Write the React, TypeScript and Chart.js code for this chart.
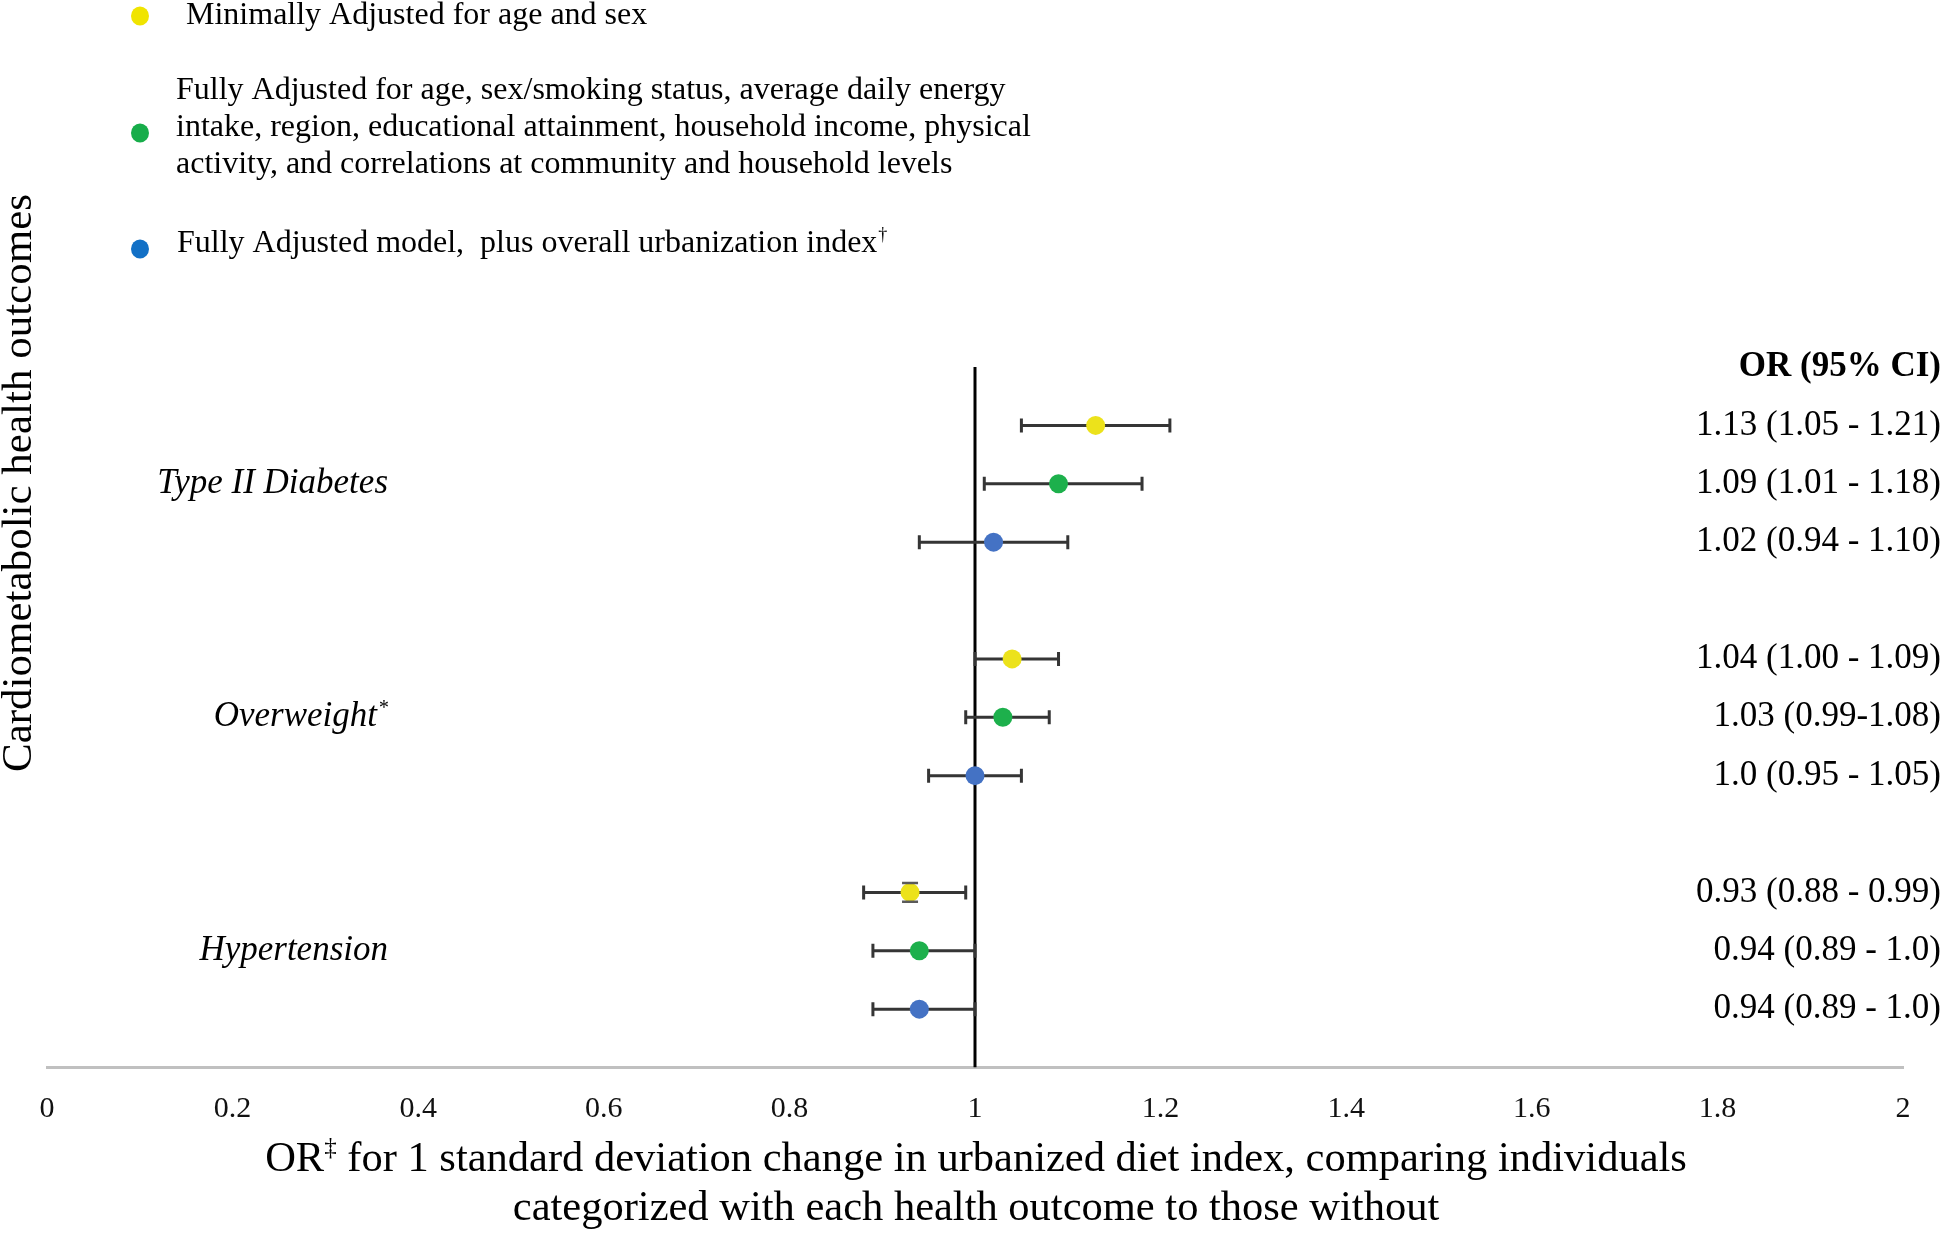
import React, { useEffect, useRef } from "react";
import { Chart, registerables } from "chart.js";

Chart.register(...registerables);

const FONT = "'Liberation Serif', 'Times New Roman', serif";

// ---- data ----
const outcomes = ["Type II Diabetes", "Overweight", "Hypertension"];
const outcomeMarks = ["", "*", ""];
const outcomeSlots = [1, 5, 9];

const modelColors = ["#ece21b", "#1db04c", "#4472c4"];
const legendColors = ["#f0e400", "#17ad4a", "#1270c6"];

const rowSlots = [0, 1, 2, 4, 5, 6, 8, 9, 10];
const rowModel = [0, 1, 2, 0, 1, 2, 0, 1, 2];
const orValues = [1.13, 1.09, 1.02, 1.04, 1.03, 1.0, 0.93, 0.94, 0.94];
const ciLower = [1.05, 1.01, 0.94, 1.0, 0.99, 0.95, 0.88, 0.89, 0.89];
const ciUpper = [1.21, 1.18, 1.1, 1.09, 1.08, 1.05, 0.99, 1.0, 1.0];
const tinyYErr = [0, 0, 0, 0, 0, 0, 0.16, 0, 0];
const orLabels = [
  "1.13 (1.05 - 1.21)",
  "1.09 (1.01 - 1.18)",
  "1.02 (0.94 - 1.10)",
  "1.04 (1.00 - 1.09)",
  "1.03 (0.99-1.08)",
  "1.0 (0.95 - 1.05)",
  "0.93 (0.88 - 0.99)",
  "0.94 (0.89 - 1.0)",
  "0.94 (0.89 - 1.0)",
];
const orHeader = "OR (95% CI)";
const headerSlot = -1;

const referenceX = 1;
const referenceYRange = [-1, 11];

const xMin = 0;
const xMax = 2;
const xStep = 0.2;

const legendLines = [
  ["Minimally Adjusted for age and sex"],
  [
    "Fully Adjusted for age, sex/smoking status, average daily energy",
    "intake, region, educational attainment, household income, physical",
    "activity, and correlations at community and household levels",
  ],
  ["Fully Adjusted model,  plus overall urbanization index"],
];
const legendSupers = ["", "", "\u2020"];

const yTitle = "Cardiometabolic health outcomes";
const xTitleLine1Pre = "OR";
const xTitleLine1Sup = "\u2021";
const xTitleLine1Post = " for 1 standard deviation change in urbanized diet index, comparing individuals";
const xTitleLine2 = "categorized with each health outcome to those without";

const overlayPlugin = {
  id: "forestOverlay",
  beforeDatasetDraw(chart: any, args: any) {
    if (args.index !== 0) return;
    const { ctx } = chart;
    const xs = chart.scales.x;
    const ys = chart.scales.y;
    ctx.save();
    ctx.strokeStyle = "#353535";
    ctx.lineWidth = 3;
    rowSlots.forEach((slot, i) => {
      const y = ys.getPixelForValue(slot);
      const x1 = xs.getPixelForValue(ciLower[i]);
      const x2 = xs.getPixelForValue(ciUpper[i]);
      ctx.beginPath();
      ctx.moveTo(x1, y);
      ctx.lineTo(x2, y);
      ctx.moveTo(x1, y - 7);
      ctx.lineTo(x1, y + 7);
      ctx.moveTo(x2, y - 7);
      ctx.lineTo(x2, y + 7);
      ctx.stroke();
    });
    ctx.restore();
  },
  afterDatasetsDraw(chart: any) {
    const { ctx } = chart;
    const xs = chart.scales.x;
    const ys = chart.scales.y;
    ctx.save();
    ctx.strokeStyle = "#5a5a5a";
    ctx.lineWidth = 2.5;
    rowSlots.forEach((slot, i) => {
      if (!tinyYErr[i]) return;
      const x = xs.getPixelForValue(orValues[i]);
      const yTop = ys.getPixelForValue(slot - tinyYErr[i]);
      const yBot = ys.getPixelForValue(slot + tinyYErr[i]);
      ctx.beginPath();
      ctx.moveTo(x - 8, yTop);
      ctx.lineTo(x + 8, yTop);
      ctx.moveTo(x - 8, yBot);
      ctx.lineTo(x + 8, yBot);
      ctx.stroke();
    });
    ctx.restore();
  },
  afterDraw(chart: any) {
    const { ctx } = chart;
    const ys = chart.scales.y;
    ctx.save();
    ctx.fillStyle = "#000";
    ctx.textBaseline = "middle";

    // right-side OR labels
    ctx.textAlign = "right";
    ctx.font = `bold 35px ${FONT}`;
    ctx.fillText(orHeader, 1941, ys.getPixelForValue(headerSlot));
    ctx.font = `35px ${FONT}`;
    rowSlots.forEach((slot, i) => {
      ctx.fillText(orLabels[i], 1941, ys.getPixelForValue(slot));
    });

    // outcome labels
    outcomes.forEach((name, i) => {
      const y = ys.getPixelForValue(outcomeSlots[i]);
      let right = 388;
      if (outcomeMarks[i]) {
        ctx.font = `italic 20px ${FONT}`;
        ctx.textAlign = "right";
        ctx.fillText(outcomeMarks[i], right, y - 9);
        right -= ctx.measureText(outcomeMarks[i]).width + 1;
      }
      ctx.font = `italic 35px ${FONT}`;
      ctx.textAlign = "right";
      ctx.fillText(name, right, y);
    });

    // legend
    const dotY = [16, 133, 249];
    const textX = [186, 176, 177];
    const textY0 = [16, 91, 244];
    const lineGap = 37;
    ctx.textAlign = "left";
    legendLines.forEach((lines, i) => {
      ctx.fillStyle = legendColors[i];
      ctx.beginPath();
      ctx.ellipse(140, dotY[i], 9, 9.5, 0, 0, Math.PI * 2);
      ctx.fill();
      ctx.fillStyle = "#000";
      ctx.font = `32px ${FONT}`;
      lines.forEach((ln, j) => {
        const y = textY0[i] + j * lineGap;
        ctx.fillText(ln, textX[i], y);
        if (legendSupers[i] && j === lines.length - 1) {
          const w = ctx.measureText(ln).width;
          ctx.font = `18px ${FONT}`;
          ctx.fillText(legendSupers[i], textX[i] + w + 1, y - 9);
          ctx.font = `32px ${FONT}`;
        }
      });
    });

    // y title
    ctx.save();
    ctx.translate(20, 483);
    ctx.rotate(-Math.PI / 2);
    ctx.textAlign = "center";
    ctx.font = `43px ${FONT}`;
    ctx.fillText(yTitle, 0, 0);
    ctx.restore();

    // x title
    ctx.font = `42.5px ${FONT}`;
    const wPre = ctx.measureText(xTitleLine1Pre).width;
    const wPost = ctx.measureText(xTitleLine1Post).width;
    ctx.font = `25px ${FONT}`;
    const wSup = ctx.measureText(xTitleLine1Sup).width;
    const total = wPre + wSup + wPost;
    let x = 976 - total / 2;
    ctx.textAlign = "left";
    ctx.font = `42.5px ${FONT}`;
    ctx.fillText(xTitleLine1Pre, x, 1160);
    x += wPre;
    ctx.font = `25px ${FONT}`;
    ctx.fillText(xTitleLine1Sup, x, 1148);
    x += wSup;
    ctx.font = `42.5px ${FONT}`;
    ctx.fillText(xTitleLine1Post, x, 1160);
    ctx.textAlign = "center";
    ctx.fillText(xTitleLine2, 976, 1209);

    ctx.restore();
  },
};

export default function App() {
  const ref = useRef<HTMLCanvasElement | null>(null);

  useEffect(() => {
    if (!ref.current) return;
    const markerPoints = rowSlots.map((slot, i) => ({ x: orValues[i], y: slot }));
    const markerColors = rowModel.map((m) => modelColors[m]);
    const refLine = referenceYRange.map((y) => ({ x: referenceX, y }));

    const chart = new Chart(ref.current, {
      type: "scatter",
      data: {
        datasets: [
          {
            label: "OR",
            data: markerPoints,
            pointBackgroundColor: markerColors,
            pointBorderWidth: 0,
            pointRadius: 9.5,
            pointHoverRadius: 9.5,
            order: 0,
          } as any,
          {
            label: "reference",
            data: refLine,
            showLine: true,
            borderColor: "#000",
            borderWidth: 3,
            pointRadius: 0,
            order: 1,
          } as any,
        ],
      },
      options: {
        animation: false,
        responsive: true,
        maintainAspectRatio: false,
        layout: { padding: { left: 47, right: 41, top: 367, bottom: 83.5 } },
        plugins: { legend: { display: false }, tooltip: { enabled: false } },
        scales: {
          x: {
            type: "linear",
            min: xMin,
            max: xMax,
            ticks: {
              stepSize: xStep,
              color: "#111",
              padding: 24,
              font: { family: FONT, size: 30, lineHeight: 1.2 },
              callback: (v: any) => String(Number(Number(v).toFixed(1))),
            },
            grid: { display: false, drawTicks: false },
            border: { color: "#c0c0c0", width: 3 },
          },
          y: {
            type: "linear",
            min: referenceYRange[0],
            max: referenceYRange[1],
            reverse: true,
            display: false,
          },
        },
      },
      plugins: [overlayPlugin],
    });
    return () => chart.destroy();
  }, []);

  return (
    <div
      style={{
        position: "fixed",
        left: 0,
        top: 0,
        width: 1944,
        height: 1235,
        background: "#fff",
      }}
    >
      <canvas ref={ref} />
    </div>
  );
}
